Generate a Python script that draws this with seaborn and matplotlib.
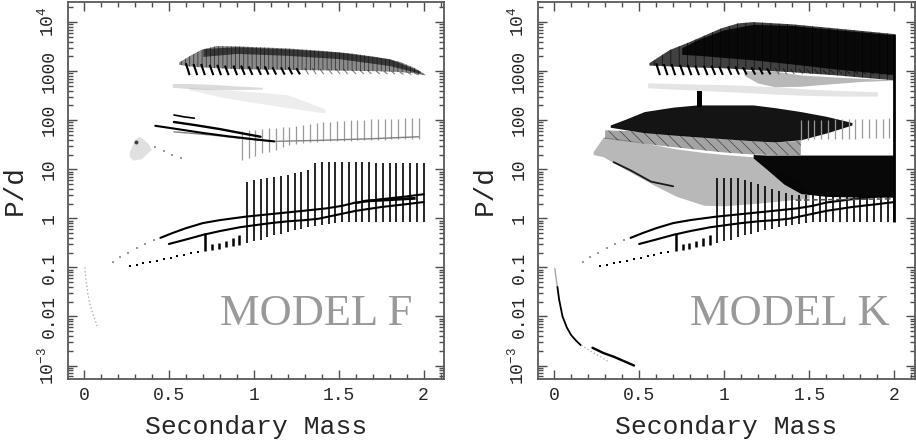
import matplotlib
matplotlib.use("Agg")
import matplotlib.pyplot as plt
import seaborn as sns
from matplotlib.ticker import LogLocator, NullFormatter, MultipleLocator

# ------------------------------------------------------------
# style
# ------------------------------------------------------------
sns.set_style("ticks")
plt.rcParams["font.family"] = ["Liberation Mono", "DejaVu Sans Mono"]
plt.rcParams["mathtext.fontset"] = "custom"
plt.rcParams["mathtext.rm"] = "Liberation Mono"
plt.rcParams["mathtext.it"] = "Liberation Mono"
plt.rcParams["mathtext.default"] = "rm"
plt.rcParams["hatch.linewidth"] = 0.5

# ------------------------------------------------------------
# axes / ticks
# ------------------------------------------------------------
y_ticks = [1e-3, 1e-2, 1e-1, 1, 10, 100, 1000, 1e4]
y_labels = [r"$10^{-3}$", "0.01", "0.1", "1", "10", "100", "1000", r"$10^{4}$"]
x_ticks = [0, 0.5, 1, 1.5, 2]
x_labels = ["0", "0.5", "1", "1.5", "2"]
panel_names = ["MODEL F", "MODEL K"]

# ------------------------------------------------------------
# data common to both models (short-period tracks)
# ------------------------------------------------------------
trk_up_x = [0.45, 0.52, 0.60, 0.70, 0.80, 0.95, 1.10, 1.27, 1.43, 1.52, 1.60, 1.75, 1.90, 2.00]
trk_up_y = [0.40, 0.50, 0.63, 0.80, 0.92, 1.08, 1.22, 1.40, 1.60, 1.80, 2.10, 2.45, 2.80, 3.10]
trk_lo_x = [0.50, 0.60, 0.70, 0.80, 0.92, 1.00, 1.10, 1.20, 1.30, 1.38, 1.50, 1.60, 1.75, 1.90, 2.00]
trk_lo_y = [0.30, 0.37, 0.46, 0.55, 0.66, 0.72, 0.80, 0.87, 0.92, 0.98, 1.20, 1.42, 1.70, 1.95, 2.15]
faint_x = [0.17, 0.21, 0.26, 0.31, 0.36, 0.41]
faint_y = [0.13, 0.16, 0.20, 0.25, 0.30, 0.36]

dot_x = [0.27, 0.31, 0.35, 0.39, 0.43, 0.47, 0.51, 0.55, 0.59, 0.63, 0.67]
dot_y = [0.105, 0.113, 0.121, 0.129, 0.138, 0.148, 0.159, 0.170, 0.182, 0.195, 0.210]

sp2_x = [0.715, 0.755, 0.795, 0.835, 0.875, 0.915]
sp2_lo = [0.215, 0.23, 0.24, 0.255, 0.27, 0.29]
sp2_hi = [0.50, 0.30, 0.32, 0.35, 0.40, 0.46]

spk_x = [0.96, 1.00, 1.04, 1.08, 1.12, 1.16, 1.20, 1.24, 1.28, 1.32, 1.36, 1.40, 1.44, 1.48,
         1.52, 1.56, 1.60, 1.64, 1.68, 1.72, 1.76, 1.80, 1.84, 1.88, 1.92, 1.96, 2.00]
spk_lo = [0.31, 0.34, 0.37, 0.41, 0.45, 0.49, 0.53, 0.57, 0.62, 0.66, 0.70, 0.74, 0.78, 0.81,
          0.84, 0.85, 0.86, 0.86, 0.86, 0.86, 0.86, 0.86, 0.86, 0.86, 0.86, 0.86, 0.86]

teeth_x = [0.60, 0.645, 0.69, 0.74, 0.785, 0.83, 0.88, 0.925, 0.97, 1.02, 1.065, 1.11, 1.16, 1.205,
           1.25, 1.30, 1.345, 1.39, 1.44, 1.485, 1.53, 1.58, 1.625, 1.67, 1.72, 1.765, 1.81, 1.86,
           1.905, 1.95]
teeth_hi = [1450, 1400, 1400, 1350, 1350, 1300, 1300, 1300, 1250, 1250, 1250, 1200, 1200, 1200,
            1150, 1150, 1150, 1100, 1100, 1100, 1100, 1050, 1050, 1050, 1000, 1000, 1000, 950,
            950, 900]
teeth_lo = [830, 830, 830, 830, 830, 830, 830, 840, 840, 840, 850, 850, 850, 860,
            860, 860, 870, 870, 870, 880, 880, 880, 880, 880, 880, 880, 870, 860,
            850, 840]

# ------------------------------------------------------------
# MODEL F
# ------------------------------------------------------------
f_spk_hi = [5.6, 6.0, 6.3, 6.6, 7.0, 7.4, 7.8, 8.3, 8.8, 9.5, 13.5, 14, 14, 14,
            14, 14, 14, 14, 14, 13.5, 13.5, 13.5, 13.5, 13.5, 13.5, 13.5, 13.5]

f_fan_x = [0.56, 0.62, 0.69, 0.78, 0.90, 1.05, 1.20, 1.40, 1.57, 1.72, 1.86, 1.95, 2.01]
f_fan_hi = [1500, 2000, 2700, 3250, 3200, 3050, 2900, 2600, 2300, 1950, 1550, 1150, 850]
f_fan_lo = [1350, 1250, 1200, 1150, 1100, 1080, 1060, 1040, 1020, 1000, 960, 900, 820]
f_core_x = [0.70, 0.90, 1.20, 1.50, 1.80, 1.98]
f_core_hi = [2900, 3150, 2850, 2450, 1800, 1000]
f_core_lo = [2000, 2300, 2100, 1800, 1300, 900]

f_g5_x = [0.52, 0.62, 0.75, 0.90, 1.05]
f_g5_hi = [560, 560, 540, 500, 470]
f_g5_lo = [470, 440, 420, 420, 430]
f_wedge_x = [0.62, 0.80, 1.00, 1.20, 1.42]
f_wedge_hi = [470, 420, 380, 330, 170]
f_wedge_lo = [420, 300, 230, 180, 140]

f_l1_x = [0.42, 0.55, 0.70, 0.85, 1.00, 1.12]
f_l1_y = [77, 66, 55, 47, 41, 37]
f_l2_x = [0.53, 0.65, 0.80, 0.92, 1.04]
f_l2_y = [92, 80, 66, 55, 46]
f_l3_x = [0.53, 0.59, 0.65]
f_l3_y = [128, 117, 110]
f_l4_x = [0.53, 0.75, 1.00, 1.12, 1.40, 1.70, 1.97]
f_l4_y = [58, 50, 40, 37, 39, 42, 46]

f_dash_x = [0.93, 0.97, 1.01, 1.05, 1.09, 1.13, 1.17, 1.21, 1.25, 1.29, 1.33, 1.37, 1.41, 1.45,
            1.49, 1.53, 1.57, 1.61, 1.65, 1.69, 1.73, 1.77, 1.81, 1.85, 1.89, 1.93, 1.97]
f_dash_lo = [15.5, 17, 19, 21, 23, 25, 28, 31, 33, 35, 36, 36, 37, 37,
             38, 38, 38, 39, 39, 40, 40, 40, 41, 41, 42, 42, 42]
f_dash_hi = [60, 62, 64, 66, 68, 70, 72, 74, 76, 80, 84, 88, 90, 92,
             95, 97, 100, 100, 102, 104, 105, 106, 108, 108, 110, 110, 110]

f_blob_x = [0.27, 0.30, 0.33, 0.38, 0.40, 0.34, 0.29, 0.27]
f_blob_y = [22, 40, 46, 33, 25, 16, 15, 18]
f_trail_x = [0.42, 0.47, 0.52, 0.57]
f_trail_y = [28, 24, 20, 17]

f_thick_x = [1.60, 1.65, 1.75, 1.85, 1.95]
f_thick_lo = [2.00, 2.15, 2.25, 2.35, 2.45]
f_thick_hi = [2.10, 2.45, 2.60, 2.70, 2.80]

f_lc_x = [0.005, 0.012, 0.022, 0.035, 0.05, 0.065, 0.078]
f_lc_y = [0.1, 0.055, 0.03, 0.018, 0.012, 0.0085, 0.0063]

# ------------------------------------------------------------
# MODEL K
# ------------------------------------------------------------
k_spk_hi = [6.5, 6.5, 6.5, 6.5, 6.0, 5.5, 5.0, 4.5, 4.0, 3.6, 3.3, 3.0, 3.0, 3.0,
            3.0, 3.0, 3.0, 3.0, 3.0, 3.0, 3.0, 3.0, 3.0, 3.0, 3.0, 3.0, 3.0]

k_top_x = [0.56, 0.68, 0.78, 0.98, 1.08, 1.17, 1.40, 1.66, 1.85, 2.00]
k_top_hi = [1450, 2700, 3700, 7400, 9400, 10000, 9000, 7400, 6400, 5700]
k_top_lo = [1300, 1250, 1200, 1150, 1100, 1050, 950, 820, 720, 650]
k_core_x = [0.75, 0.85, 1.00, 1.17, 1.40, 1.66, 2.00]
k_core_hi = [3000, 4500, 7000, 9000, 8500, 7000, 5500]
k_core_lo = [2200, 2100, 1900, 1700, 1400, 1100, 850]

k_arc_x = [1.12, 1.20, 1.30, 1.45, 1.60, 1.80, 2.00]
k_arc_hi = [1000, 1000, 980, 820, 760, 700, 650]
k_arc_lo = [800, 560, 470, 480, 530, 600, 640]

k_g5_x = [0.55, 0.70, 0.90, 1.10, 1.30, 1.50, 1.70, 1.90]
k_g5_hi = [580, 560, 540, 520, 480, 430, 400, 380]
k_g5_lo = [460, 430, 400, 370, 340, 320, 310, 310]

k_bar_x = [0.838, 0.868]
k_bar_lo = [190, 190]
k_bar_hi = [400, 400]

k_mid_x = [0.33, 0.42, 0.53, 0.70, 0.84, 1.00, 1.17, 1.30, 1.45, 1.60, 1.75]
k_mid_hi = [80, 105, 150, 185, 205, 205, 205, 180, 150, 120, 90]
k_mid_lo = [72, 64, 56, 50, 46, 42, 38, 36, 40, 55, 80]

k_dash_x = [1.45, 1.49, 1.53, 1.57, 1.61, 1.65, 1.69, 1.73, 1.77, 1.81, 1.85, 1.89, 1.93, 1.97]
k_dash_lo = [40, 40, 41, 41, 41, 42, 42, 42, 42, 43, 43, 43, 43, 44]
k_dash_hi = [100, 100, 100, 102, 102, 104, 104, 105, 106, 106, 107, 108, 108, 110]

k_str_x = [0.30, 0.45, 0.60, 0.80, 1.00, 1.17, 1.30, 1.45]
k_str_hi = [62, 60, 54, 48, 42, 37, 35, 38]
k_str_lo = [42, 36, 31, 26, 22, 20, 19.5, 19.5]

k_spc_x = [0.23, 0.29, 0.43, 0.60, 0.72, 0.88, 1.00, 1.17, 1.30, 1.45, 1.50]
k_spc_hi = [23, 46, 40, 31, 26, 22, 20, 18, 10, 5, 3.5]
k_spc_lo = [20, 18, 9.5, 4.5, 2.8, 1.85, 1.8, 2.0, 2.2, 2.5, 2.6]
k_spl_x = [0.35, 0.45, 0.57, 0.70]
k_spl_y = [14, 9.5, 5.6, 4.5]

k_tri_x = [1.17, 1.25, 1.35, 1.45, 1.60, 1.80, 2.00]
k_tri_hi = [20, 19.5, 19.5, 19.5, 19.5, 19.5, 19.5]
k_tri_lo = [17, 10, 5, 3.2, 2.8, 2.7, 2.7]

k_hl_x = [1.42, 1.60, 1.80, 2.00]
k_hl_y = [2.35, 2.40, 2.45, 2.50]

k_edge_x = [2.0]
k_edge_lo = [0.85]
k_edge_hi = [5700]

k_lc1_x = [0.005, 0.012, 0.02]
k_lc1_y = [0.095, 0.06, 0.04]
k_lc2_x = [0.02, 0.03, 0.05, 0.075, 0.10, 0.13, 0.157]
k_lc2_y = [0.04, 0.022, 0.01, 0.006, 0.0042, 0.0032, 0.0026]
k_lc3_x = [0.226, 0.29, 0.353, 0.47]
k_lc3_y = [0.0023, 0.0018, 0.0015, 0.001]
k_lc4_x = [0.16, 0.20, 0.26, 0.32]
k_lc4_y = [0.0026, 0.0021, 0.0016, 0.0012]


def line(ax, x, y, color="k", lw=1.5, ls="-"):
    sns.lineplot(x=x, y=y, ax=ax, color=color, lw=lw, ls=ls,
                 estimator=None, sort=False, legend=False)


def band(ax, x, lo, hi, color, alpha, hatch=None):
    ax.fill_between(x, lo, hi, facecolor=color, alpha=alpha, lw=0,
                    hatch=hatch, edgecolor="k")


def draw_common(ax, spike_hi):
    for x0, h, l in zip(teeth_x, teeth_hi, teeth_lo):
        ax.plot([x0, x0 + 0.022], [h, l], color="k", lw=1.5 if x0 < 1.3 else 0.8,
                alpha=1 if x0 < 1.3 else 0.5, solid_capstyle="butt")
    ax.vlines(spk_x, spk_lo, spike_hi, color="k", lw=1.2)
    ax.vlines(sp2_x, sp2_lo, sp2_hi, color="k", lw=1.8)
    line(ax, trk_up_x, trk_up_y, lw=1.5)
    line(ax, trk_lo_x, trk_lo_y, lw=1.5)
    sns.scatterplot(x=faint_x, y=faint_y, ax=ax, color="0.6", s=2, marker="s",
                    linewidth=0, legend=False)
    sns.scatterplot(x=dot_x, y=dot_y, ax=ax, color="k", s=3, marker="s",
                    linewidth=0, legend=False)


fig = plt.figure(figsize=(9.16, 4.43), dpi=100)
ax_f = fig.add_axes([0.0737, 0.145, 0.411, 0.8505])
ax_k = fig.add_axes([0.5868, 0.145, 0.412, 0.8505])
axes = [ax_f, ax_k]

for ax in axes:
    ax.set_yscale("log")
    ax.set_xlim(-0.097, 2.12)
    ax.set_ylim(10 ** -3.27, 10 ** 4.41)

# ---- MODEL F ----
ax = ax_f
band(ax, f_wedge_x, f_wedge_lo, f_wedge_hi, "0.8", 0.35)
band(ax, f_g5_x, f_g5_lo, f_g5_hi, "0.6", 0.35)
band(ax, f_fan_x, f_fan_lo, f_fan_hi, "0.35", 0.7, hatch="||||")
band(ax, f_core_x, f_core_lo, f_core_hi, "0.05", 0.65)
ax.vlines(f_dash_x, f_dash_lo, f_dash_hi, color="0.6", lw=0.9)
line(ax, f_l4_x, f_l4_y, color="0.5", lw=1.0)
line(ax, f_l1_x, f_l1_y, lw=1.5)
line(ax, f_l2_x, f_l2_y, lw=1.7)
line(ax, f_l3_x, f_l3_y, lw=1.2)
ax.fill(f_blob_x, f_blob_y, color="0.7", alpha=0.4, lw=0)
sns.scatterplot(x=[0.306], y=[36], ax=ax, color="0.25", s=8, linewidth=0, legend=False)
sns.scatterplot(x=f_trail_x, y=f_trail_y, ax=ax, color="0.6", s=2, marker="s",
                linewidth=0, legend=False)
line(ax, f_lc_x, f_lc_y, color="0.7", lw=1.0, ls=":")
draw_common(ax, f_spk_hi)
band(ax, f_thick_x, f_thick_lo, f_thick_hi, "k", 1.0)

# ---- MODEL K ----
ax = ax_k
band(ax, k_g5_x, k_g5_lo, k_g5_hi, "0.65", 0.3)
band(ax, k_arc_x, k_arc_lo, k_arc_hi, "0.45", 0.5, hatch="))")
band(ax, k_spc_x, k_spc_lo, k_spc_hi, "0.45", 0.5)
band(ax, k_str_x, k_str_lo, k_str_hi, "0.4", 0.6, hatch="\\\\\\")
line(ax, k_spl_x, k_spl_y, color="0.1", lw=1.3)
draw_common(ax, k_spk_hi)
band(ax, k_top_x, k_top_lo, k_top_hi, "0.12", 0.85, hatch="||")
band(ax, k_core_x, k_core_lo, k_core_hi, "k", 0.85)
band(ax, k_bar_x, k_bar_lo, k_bar_hi, "k", 1.0)
band(ax, k_mid_x, k_mid_lo, k_mid_hi, "k", 0.92)
ax.vlines(k_dash_x, k_dash_lo, k_dash_hi, color="0.6", lw=0.9)
band(ax, k_tri_x, k_tri_lo, k_tri_hi, "k", 0.97)
line(ax, k_hl_x, k_hl_y, color="0.3", lw=1.1, ls="--")
ax.vlines(k_edge_x, k_edge_lo, k_edge_hi, color="k", lw=2.0)
line(ax, k_lc1_x, k_lc1_y, color="0.65", lw=1.0)
line(ax, k_lc2_x, k_lc2_y, color="k", lw=1.3)
line(ax, k_lc3_x, k_lc3_y, color="k", lw=1.7)
line(ax, k_lc4_x, k_lc4_y, color="0.7", lw=1.0, ls=":")

# ---- frames, ticks, labels ----
for ax, name in zip(axes, panel_names):
    ax.set_xticks(x_ticks, x_labels)
    ax.xaxis.set_minor_locator(MultipleLocator(0.1))
    ax.set_yticks(y_ticks, y_labels, rotation=90, va="center")
    ax.yaxis.set_minor_locator(LogLocator(base=10, subs=[2, 3, 4, 5, 6, 7, 8, 9], numticks=20))
    ax.yaxis.set_minor_formatter(NullFormatter())
    ax.set_xlim(-0.097, 2.12)
    ax.set_ylim(10 ** -3.27, 10 ** 4.41)
    ax.tick_params(which="both", direction="in", top=True, right=True, color="0.3",
                   width=1.0, labelsize=13)
    ax.tick_params(which="major", length=6.5)
    ax.tick_params(which="minor", length=3.3)
    ax.tick_params(axis="y", pad=7)
    ax.tick_params(axis="x", pad=6)
    for sp in ax.spines.values():
        sp.set_color("0.35")
        sp.set_linewidth(1.3)
    ax.set_xlabel("Secondary Mass", fontsize=19, labelpad=8)
    ax.set_ylabel("P/d", fontsize=20)
    ax.yaxis.set_label_coords(-0.105, 0.5)
    ax.text(0.405, 0.143, name, transform=ax.transAxes, ha="left", va="baseline",
            fontsize=32, color="0.6", family="Liberation Serif")

fig.savefig("out.png", dpi=100)
